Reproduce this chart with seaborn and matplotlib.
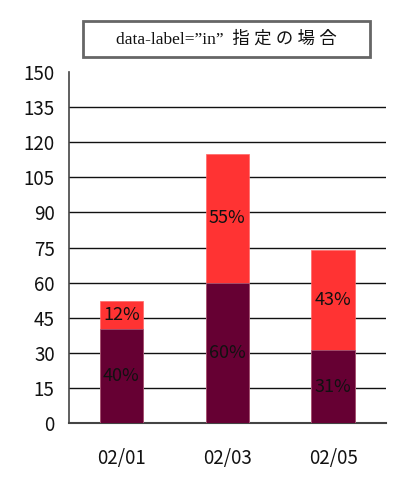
import pandas as pd
import matplotlib.pyplot as plt
import seaborn as sns
from matplotlib.patches import Rectangle

# データ
dates = ["02/01", "02/03", "02/05"]
lower = [40, 60, 31]
upper = [12, 55, 43]
y_ticks = list(range(0, 151, 15))

df = pd.DataFrame({"date": dates, "lower": lower, "upper": upper})
df["total"] = df["lower"] + df["upper"]

sns.set_style("white")
plt.rcParams['font.family'] = ['Noto Sans CJK JP', 'DejaVu Sans']

fig = plt.figure(figsize=(4.16, 4.86), dpi=100)
ax = fig.add_axes([0.1647, 0.1296, 0.7632, 0.7222])

# 積み上げ: 合計を赤で描いてから下段を上に重ねる
sns.barplot(data=df, x="date", y="total", color="#ff3333", saturation=1,
            width=0.41, edgecolor="#ff6666", linewidth=0.5, ax=ax, zorder=3)
sns.barplot(data=df, x="date", y="lower", color="#660033", saturation=1,
            width=0.41, edgecolor="#a06080", linewidth=0.5, ax=ax, zorder=4)

# データラベル (バーの内側)
for i, row in df.iterrows():
    ax.text(i, row["lower"] / 2, f'{row["lower"]}%', ha='center', va='center',
            fontsize=13, color='#111111', zorder=5)
    ax.text(i, row["lower"] + row["upper"] / 2, f'{row["upper"]}%', ha='center',
            va='center', fontsize=13, color='#111111', zorder=5)

ax.set_ylim(0, 150)
ax.set_xlim(-0.5, 2.5)
ax.set_yticks(y_ticks)
ax.set_yticklabels([str(t) for t in y_ticks])
ax.tick_params(axis='both', length=0, labelsize=13.5, colors='#111111')
ax.tick_params(axis='y', pad=10)
ax.tick_params(axis='x', pad=18)
ax.set_xlabel("")
ax.set_ylabel("")

# 横線 (150 には引かない)
for t in y_ticks[1:-1]:
    ax.axhline(t, color='#111111', linewidth=1, zorder=1)

for s in ['top', 'right']:
    ax.spines[s].set_visible(False)
ax.spines['left'].set_color('#444444')
ax.spines['bottom'].set_color('#444444')
ax.spines['left'].set_linewidth(1.2)
ax.spines['bottom'].set_linewidth(1.5)

# タイトルの枠
fig.patches.append(Rectangle((82.7 / 416, 1 - 57 / 486), 287.6 / 416, 36 / 486,
                             transform=fig.transFigure, fill=False,
                             edgecolor='#666666', linewidth=2))
fig.text(226.5 / 416, 1 - 39.5 / 486, 'data-label=”in”  指 定 の 場 合',
         ha='center', va='center', fontsize=12.5, color='#111111',
         family=['Liberation Serif', 'Noto Sans CJK JP'])

fig.savefig("out.png", dpi=100)
